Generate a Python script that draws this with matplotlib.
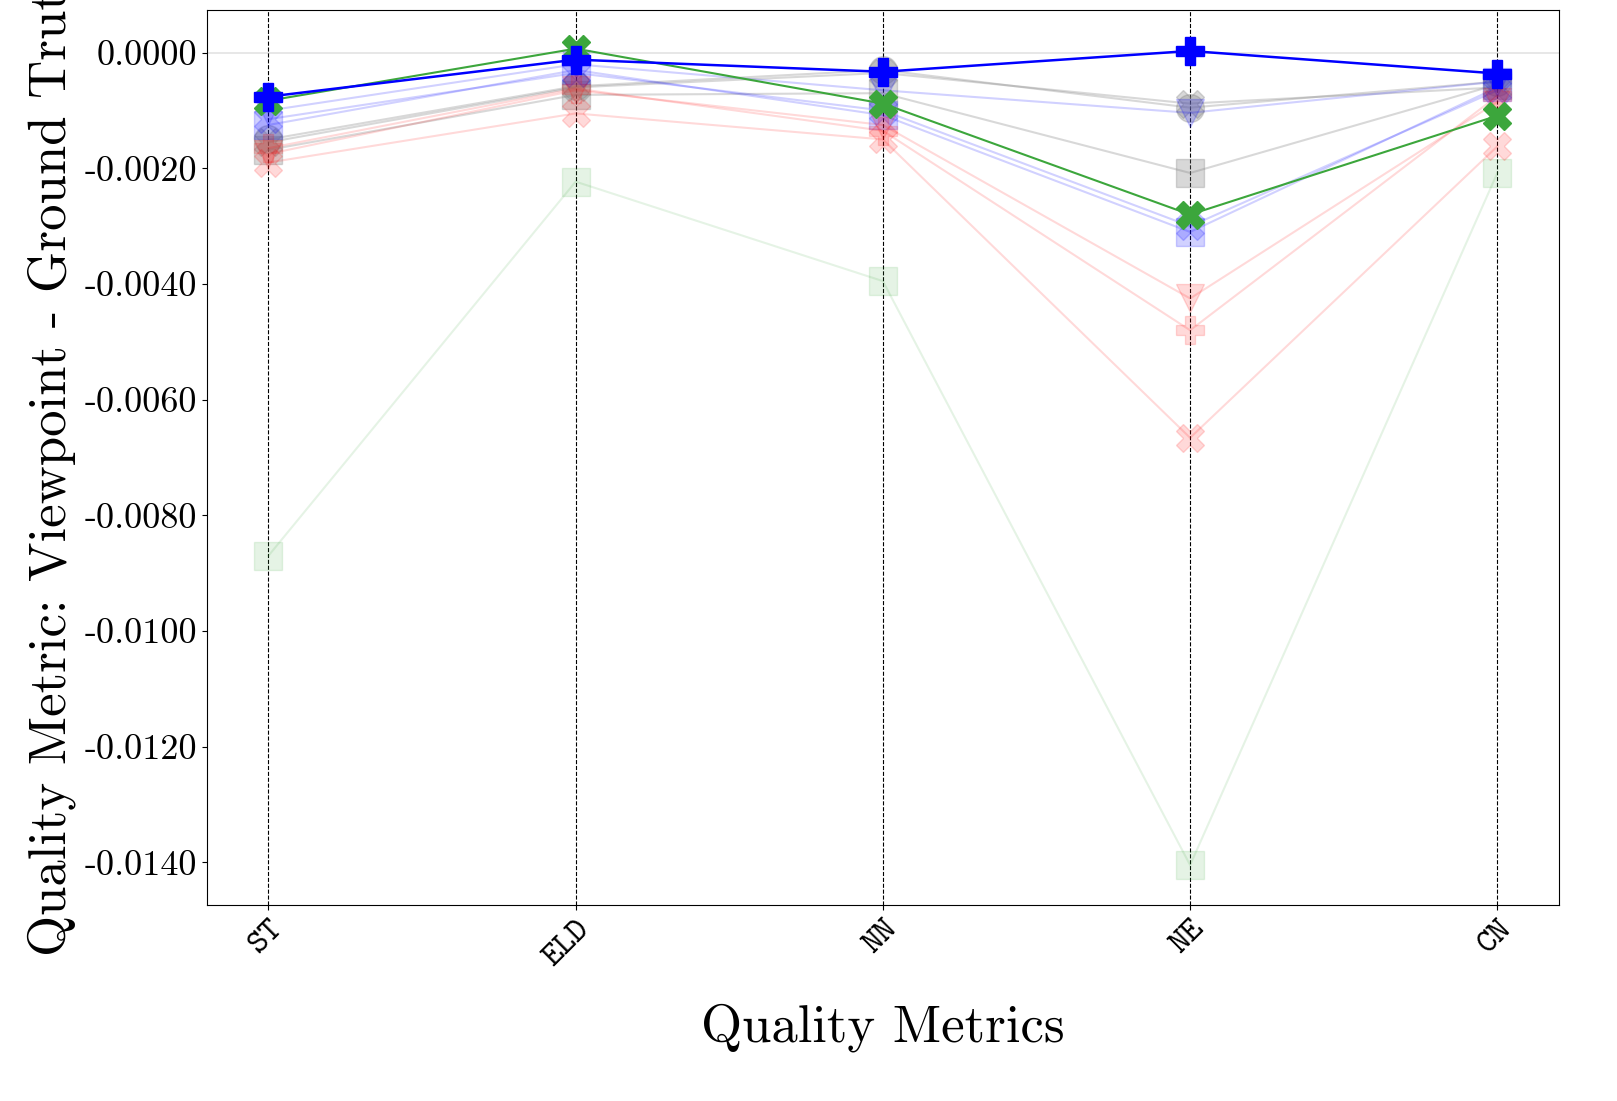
import matplotlib
matplotlib.use("Agg")
import matplotlib.pyplot as plt
from matplotlib.ticker import FuncFormatter

plt.rcParams["font.family"] = ["cmr10", "DejaVu Serif"]
plt.rcParams["axes.formatter.use_mathtext"] = True

metrics = ["ST", "ELD", "NN", "NE", "CN"]

# (label, color, marker, alpha, values)
faded_series = [
    ("green_sq", "#2ca02c", "s", 0.12, [-0.0087, -0.00223, -0.00395, -0.01405, -0.00208]),
    ("gray_sq", "#808080", "s", 0.3, [-0.00168, -0.00073, -0.00070, -0.00208, -0.00055]),
    ("gray_x", "#808080", "X", 0.3, [-0.00155, -0.00060, -0.00035, -0.00088, -0.00060]),
    ("gray_o", "#808080", "o", 0.3, [-0.00150, -0.00058, -0.00030, -0.00095, -0.00050]),
    ("blue_v", "#0000ff", "v", 0.18, [-0.00100, -0.00020, -0.00065, -0.00104, -0.00050]),
    ("blue_sq", "#0000ff", "s", 0.18, [-0.00125, -0.00030, -0.00108, -0.00310, -0.00060]),
    ("blue_x", "#0000ff", "X", 0.18, [-0.00115, -0.00035, -0.00100, -0.00300, -0.00065]),
    ("red_v", "#ff0000", "v", 0.15, [-0.00175, -0.00065, -0.00125, -0.00425, -0.00085]),
    ("red_p", "#ff0000", "P", 0.15, [-0.00165, -0.00062, -0.00135, -0.00480, -0.00075]),
    ("red_x", "#ff0000", "X", 0.15, [-0.00190, -0.00105, -0.00150, -0.00666, -0.00162]),
]
blue_plus = [-0.00076, -0.00012, -0.00033, 0.00003, -0.00036]
green_x = [-0.00083, 0.00007, -0.00088, -0.00280, -0.00109]

fig, ax = plt.subplots(figsize=(16.17, 11.01), dpi=100)
x = range(len(metrics))

ax.axhline(0, color="#d0d0d0", lw=1.2, alpha=0.6, zorder=0)
for xi in x:
    ax.axvline(xi, color="black", lw=0.8, ls="--", zorder=0)

for name, c, m, a, vals in faded_series:
    ax.plot(x, vals, color=c, marker=m, markersize=20, alpha=a, lw=1.5)

ax.plot(x, green_x, color="#3ca63c", marker="X", markersize=20, lw=1.5, zorder=5)
ax.plot(x, blue_plus, color="#0000ff", marker="P", markersize=20, lw=1.8, zorder=6)

ax.set_xlim(-0.2, 4.2)
ax.set_ylim(-0.01474, 0.00074)
ax.set_yticks([0.0, -0.002, -0.004, -0.006, -0.008, -0.010, -0.012, -0.014])
ax.yaxis.set_major_formatter(FuncFormatter(lambda v, p: "%.4f" % v))
ax.tick_params(axis="y", labelsize=26)
ax.set_xticks(list(x))
ax.set_xticklabels(metrics, rotation=45, ha="right", fontsize=24,
                   family="cmtt10", rotation_mode="anchor")

ax.set_xlabel("Quality Metrics", fontsize=38, labelpad=22)
ax.set_ylabel("Quality Metric: Viewpoint - Ground Truth", fontsize=38, labelpad=6)

plt.subplots_adjust(left=0.128, right=0.964, top=0.991, bottom=0.178)
fig.savefig("out.png")
